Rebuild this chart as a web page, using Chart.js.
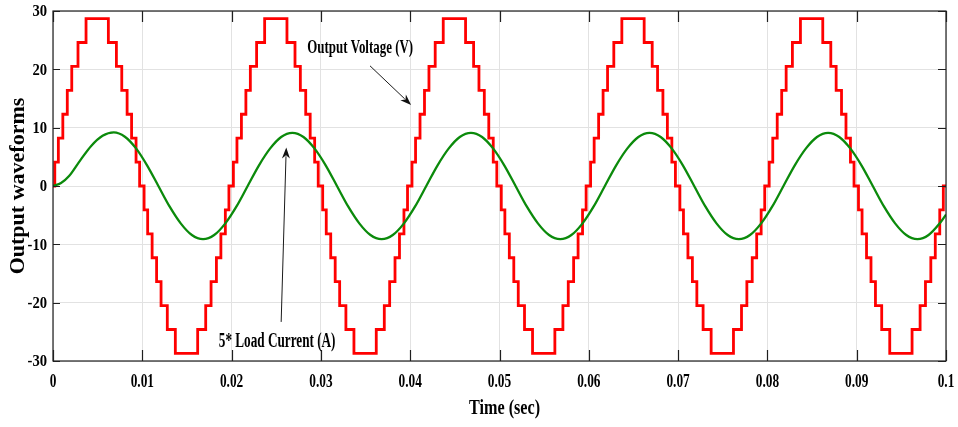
<!DOCTYPE html>
<html>
<head>
<meta charset="utf-8">
<script src="https://cdn.jsdelivr.net/npm/chart.js@4/dist/chart.umd.min.js"></script>
<style>
  html, body { margin: 0; padding: 0; background: #fff; }
  canvas { display: block; }
</style>
</head>
<body>
<canvas id="wave" width="958" height="427"></canvas>
<script>
// axis ticks
const xTicks = [0, 0.01, 0.02, 0.03, 0.04, 0.05, 0.06, 0.07, 0.08, 0.09, 0.1];
const xTickLabels = ['0', '0.01', '0.02', '0.03', '0.04', '0.05', '0.06', '0.07', '0.08', '0.09', '0.1'];
const yTicks = [-30, -20, -10, 0, 10, 20, 30];
const yTickLabels = ['-30', '-20', '-10', '0', '10', '20', '30'];

// staircase output voltage: level reached after each switching edge (one cycle)
const voltageLevels = [4.1, 8.2, 12.3, 16.4, 20.5, 24.6, 28.7, 24.6, 20.5, 16.4, 12.3, 8.2, 4.1, 0,
    -4.1, -8.2, -12.3, -16.4, -20.5, -24.6, -28.7, -24.6, -20.5, -16.4, -12.3, -8.2, -4.1, 0];

// switching edge times (s), one row per cycle
const edgesCycle1 = [0.0002, 0.0006, 0.0011, 0.0016, 0.0021, 0.0028, 0.0037, 0.0062, 0.0071, 0.0077, 0.0083, 0.0088, 0.0093, 0.0097,
    0.0102, 0.0106, 0.0111, 0.0116, 0.0121, 0.0128, 0.0137, 0.0162, 0.0171, 0.0177, 0.0183, 0.0188, 0.0193, 0.0197];
const edgesCycle2 = [0.0202, 0.0206, 0.0211, 0.0216, 0.0221, 0.0228, 0.0237, 0.0262, 0.0271, 0.0277, 0.0283, 0.0288, 0.0293, 0.0297,
    0.0302, 0.0306, 0.0311, 0.0316, 0.0321, 0.0328, 0.0337, 0.0362, 0.0371, 0.0377, 0.0383, 0.0388, 0.0393, 0.0397];
const edgesCycle3 = [0.0402, 0.0406, 0.0411, 0.0416, 0.0421, 0.0428, 0.0437, 0.0462, 0.0471, 0.0477, 0.0483, 0.0488, 0.0493, 0.0497,
    0.0502, 0.0506, 0.0511, 0.0516, 0.0521, 0.0528, 0.0537, 0.0562, 0.0571, 0.0577, 0.0583, 0.0588, 0.0593, 0.0597];
const edgesCycle4 = [0.0602, 0.0606, 0.0611, 0.0616, 0.0621, 0.0628, 0.0637, 0.0662, 0.0671, 0.0677, 0.0683, 0.0688, 0.0693, 0.0697,
    0.0702, 0.0706, 0.0711, 0.0716, 0.0721, 0.0728, 0.0737, 0.0762, 0.0771, 0.0777, 0.0783, 0.0788, 0.0793, 0.0797];
const edgesCycle5 = [0.0802, 0.0806, 0.0811, 0.0816, 0.0821, 0.0828, 0.0837, 0.0862, 0.0871, 0.0877, 0.0883, 0.0888, 0.0893, 0.0897,
    0.0902, 0.0906, 0.0911, 0.0916, 0.0921, 0.0928, 0.0937, 0.0962, 0.0971, 0.0977, 0.0983, 0.0988, 0.0993, 0.0997];

// load current (scaled x5), sampled along the trace
const currentTime = [0, 0.0009,
    0.0018, 0.00305, 0.0043, 0.00555, 0.0068, 0.00805, 0.0093, 0.01055, 0.0118, 0.01305, 0.0143, 0.01555, 0.0168, 0.01805, 0.0193, 0.02055,
    0.0218, 0.02305, 0.0243, 0.02555, 0.0268, 0.02805, 0.0293, 0.03055, 0.0318, 0.03305, 0.0343, 0.03555, 0.0368, 0.03805, 0.0393, 0.04055,
    0.0418, 0.04305, 0.0443, 0.04555, 0.0468, 0.04805, 0.0493, 0.05055, 0.0518, 0.05305, 0.0543, 0.05555, 0.0568, 0.05805, 0.0593, 0.06055,
    0.0618, 0.06305, 0.0643, 0.06555, 0.0668, 0.06805, 0.0693, 0.07055, 0.0718, 0.07305, 0.0743, 0.07555, 0.0768, 0.07805, 0.0793, 0.08055,
    0.0818, 0.08305, 0.0843, 0.08555, 0.0868, 0.08805, 0.0893, 0.09055, 0.0918, 0.09305, 0.0943, 0.09555, 0.0968, 0.09805, 0.0993, 0.1];
const currentValue = [0, 0.5,
    1.7, 4.4, 6.9, 8.6, 9.2, 8.45, 6.45, 3.5, 0, -3.5, -6.4, -8.4, -9.1, -8.4, -6.4, -3.5,
    0, 3.5, 6.4, 8.4, 9.1, 8.4, 6.4, 3.5, 0, -3.5, -6.4, -8.4, -9.1, -8.4, -6.4, -3.5,
    0, 3.5, 6.4, 8.4, 9.1, 8.4, 6.4, 3.5, 0, -3.5, -6.4, -8.4, -9.1, -8.4, -6.4, -3.5,
    0, 3.5, 6.4, 8.4, 9.1, 8.4, 6.4, 3.5, 0, -3.5, -6.4, -8.4, -9.1, -8.4, -6.4, -3.5,
    0, 3.5, 6.4, 8.4, 9.1, 8.4, 6.4, 3.5, 0, -3.5, -6.4, -8.4, -9.1, -8.4, -6.4, -4.9];

// build point lists
const voltagePoints = [{ x: 0, y: 0 }];
[edgesCycle1, edgesCycle2, edgesCycle3, edgesCycle4, edgesCycle5].forEach((edges) => {
    edges.forEach((t, i) => voltagePoints.push({ x: t, y: voltageLevels[i] }));
});
voltagePoints.push({ x: 0.1, y: 0 });

const currentPoints = currentTime.map((t, i) => ({ x: t, y: currentValue[i] }));

const FONT = '"Liberation Serif", "Times New Roman", serif';

// bold serif text, squeezed horizontally
function drawText(ctx, text, x, y, size, sx, align) {
    ctx.save();
    ctx.font = 'bold ' + size + 'px ' + FONT;
    ctx.fillStyle = '#000';
    ctx.textAlign = align || 'center';
    ctx.textBaseline = 'middle';
    ctx.translate(x, y);
    ctx.scale(sx, 1);
    ctx.fillText(text, 0, 0);
    ctx.restore();
}

function drawArrow(ctx, x0, y0, x1, y1) {
    let ang = Math.atan2(y1 - y0, x1 - x0);
    let head = 11, half = 4;
    ctx.save();
    ctx.strokeStyle = '#1a1a1a';
    ctx.fillStyle = '#111';
    ctx.lineWidth = 1;
    ctx.beginPath();
    ctx.moveTo(x0, y0);
    ctx.lineTo(x1 - Math.cos(ang) * head * 0.8, y1 - Math.sin(ang) * head * 0.8);
    ctx.stroke();
    ctx.translate(x1, y1);
    ctx.rotate(ang);
    ctx.beginPath();
    ctx.moveTo(0, 0);
    ctx.lineTo(-head, -half);
    ctx.lineTo(-head * 0.7, 0);
    ctx.lineTo(-head, half);
    ctx.closePath();
    ctx.fill();
    ctx.restore();
}

// annotation placement in data units
const notes = [
    { text: 'Output Voltage (V)', x: 0.0344, y: 23.7, size: 19, sx: 0.68,
      from: [0.0355, 20.6], to: [0.0401, 13.9] },
    { text: '5* Load Current (A)', x: 0.0251, y: -26.7, size: 20, sx: 0.66,
      from: [0.02555, -23.3], to: [0.02612, 6.6] },
];

// frame, inward ticks, labels and notes
const decorPlugin = {
    id: 'decor',
    afterDraw(chart) {
        const ctx = chart.ctx;
        const a = chart.chartArea;
        const xs = chart.scales.x;
        const ys = chart.scales.y;

        ctx.save();
        ctx.strokeStyle = '#1f1f1f';
        ctx.lineWidth = 1.2;
        ctx.strokeRect(a.left, a.top, a.right - a.left, a.bottom - a.top);

        ctx.beginPath();
        xs.ticks.forEach((t) => {
            let px = Math.round(xs.getPixelForValue(t.value)) + 0.5;
            ctx.moveTo(px, a.bottom);
            ctx.lineTo(px, a.bottom - 11);
            ctx.moveTo(px, a.top);
            ctx.lineTo(px, a.top + 11);
        });
        ys.ticks.forEach((t) => {
            let py = Math.round(ys.getPixelForValue(t.value)) + 0.5;
            ctx.moveTo(a.left, py);
            ctx.lineTo(a.left + 7, py);
            ctx.moveTo(a.right, py);
            ctx.lineTo(a.right - 8, py);
        });
        ctx.stroke();
        ctx.restore();

        xs.ticks.forEach((t, i) => {
            drawText(ctx, xTickLabels[i], xs.getPixelForValue(t.value), a.bottom + 21, 18, 0.74, 'center');
        });
        ys.ticks.forEach((t, i) => {
            drawText(ctx, yTickLabels[i], a.left - 6, ys.getPixelForValue(t.value) + 1, 17, 0.86, 'right');
        });

        drawText(ctx, 'Time (sec)', (a.left + a.right) / 2 + 5, a.bottom + 48, 21, 0.77, 'center');

        ctx.save();
        ctx.translate(18, (a.top + a.bottom) / 2);
        ctx.rotate(-Math.PI / 2);
        drawText(ctx, 'Output waveforms', 0, 0, 22, 1, 'center');
        ctx.restore();

        notes.forEach((n) => {
            drawText(ctx, n.text, xs.getPixelForValue(n.x), ys.getPixelForValue(n.y), n.size, n.sx, 'center');
            drawArrow(ctx,
                xs.getPixelForValue(n.from[0]), ys.getPixelForValue(n.from[1]),
                xs.getPixelForValue(n.to[0]), ys.getPixelForValue(n.to[1]));
        });
    },
};

new Chart(document.getElementById('wave'), {
    type: 'line',
    data: {
        datasets: [
            {
                label: '5* Load Current (A)',
                data: currentPoints,
                borderColor: '#0b8a0b',
                borderWidth: 2.3,
                pointRadius: 0,
                cubicInterpolationMode: 'monotone',
                order: 0,
            },
            {
                label: 'Output Voltage (V)',
                data: voltagePoints,
                borderColor: '#ff0000',
                borderWidth: 2.8,
                pointRadius: 0,
                // hold the previous level until the next edge
                stepped: 'before',
                borderJoinStyle: 'miter',
                order: 1,
            },
        ],
    },
    options: {
        responsive: false,
        devicePixelRatio: 1,
        animation: false,
        events: [],
        layout: { padding: { left: 53, right: 12, top: 11, bottom: 66 } },
        plugins: {
            legend: { display: false },
            tooltip: { enabled: false },
        },
        scales: {
            x: {
                type: 'linear',
                min: 0,
                max: 0.1,
                afterBuildTicks: (scale) => { scale.ticks = xTicks.map((v) => ({ value: v })); },
                ticks: { display: false },
                grid: { color: '#e2e2e2', lineWidth: 1, drawTicks: false },
                border: { display: false },
            },
            y: {
                type: 'linear',
                min: -30,
                max: 30,
                afterBuildTicks: (scale) => { scale.ticks = yTicks.map((v) => ({ value: v })); },
                ticks: { display: false },
                grid: { color: '#e2e2e2', lineWidth: 1, drawTicks: false },
                border: { display: false },
            },
        },
    },
    plugins: [decorPlugin],
});
</script>
</body>
</html>
